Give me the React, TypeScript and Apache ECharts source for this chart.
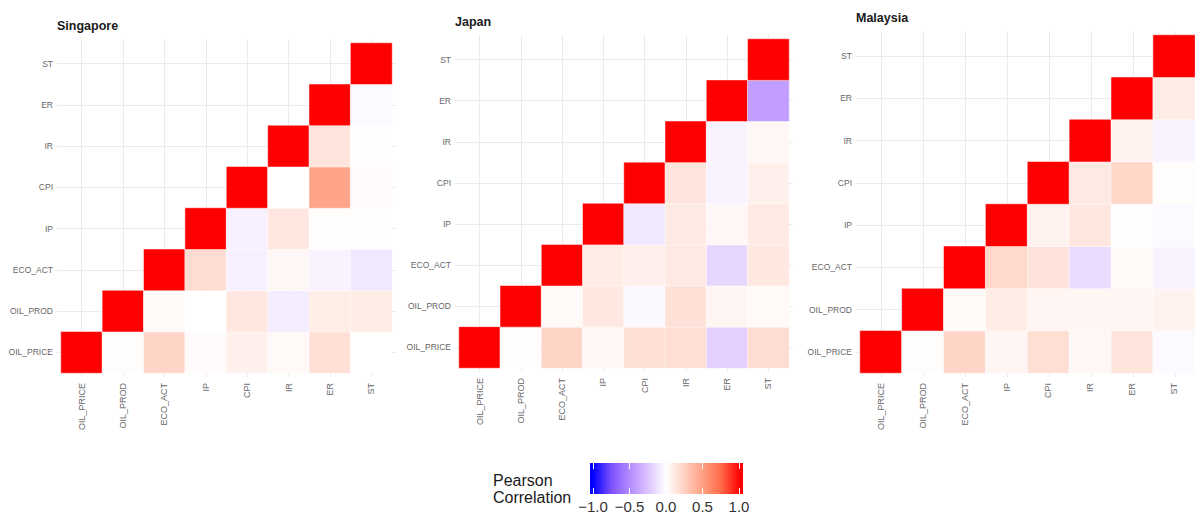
import React, { useEffect, useRef } from "react";
import * as echarts from "echarts";

// Variables (bottom-to-top on y, left-to-right on x)
const variables = ["OIL_PRICE", "OIL_PROD", "ECO_ACT", "IP", "CPI", "IR", "ER", "ST"];
const countries = ["Singapore", "Japan", "Malaysia"];

// Upper-triangle correlations: row r holds values for columns r..7
const singaporeCorr = [
  [1, 0.01, 0.22, 0.02, 0.08, 0.03, 0.16, 0.0],
  [1, 0.03, 0.0, 0.13, -0.08, 0.09, 0.1],
  [1, 0.18, -0.06, 0.04, -0.05, -0.1],
  [1, -0.06, 0.13, 0.01, 0.01],
  [1, 0.0, 0.47, 0.02],
  [1, 0.14, 0.01],
  [1, -0.02],
  [1],
];
const japanCorr = [
  [1, 0.01, 0.22, 0.04, 0.16, 0.17, -0.2, 0.18],
  [1, 0.03, 0.12, -0.03, 0.16, 0.05, 0.03],
  [1, 0.1, 0.08, 0.11, -0.17, 0.12],
  [1, -0.1, 0.11, 0.04, 0.11],
  [1, 0.14, -0.05, 0.08],
  [1, -0.05, 0.04],
  [1, -0.42],
  [1],
];
const malaysiaCorr = [
  [1, 0.01, 0.22, 0.05, 0.17, 0.04, 0.14, -0.02],
  [1, 0.03, 0.1, 0.05, 0.05, 0.05, 0.06],
  [1, 0.2, 0.15, -0.15, 0.03, -0.05],
  [1, 0.06, 0.13, -0.01, -0.02],
  [1, 0.11, 0.21, 0.01],
  [1, 0.06, -0.05],
  [1, 0.1],
  [1],
];
const countryCorr = [singaporeCorr, japanCorr, malaysiaCorr];

// Legend
const legendTitle = ["Pearson", "Correlation"];
const legendTicks = [-1, -0.5, 0, 0.5, 1];
// blue - white - red gradient (Lab-like interpolation stops from -1 to 1)
const scaleColors = [
  "#0000FF", "#7E51FF", "#B38BFF", "#DCC4FF", "#FFFFFF",
  "#FFCFBF", "#FF9E81", "#FF6846", "#FF0000",
];

// Layout of the three panels (tile area)
const panels = [
  { left: 61, top: 43, width: 331, height: 330, titleLeft: 57, titleTop: 19 },
  { left: 459, top: 39, width: 330, height: 329, titleLeft: 455, titleTop: 15 },
  { left: 860, top: 35, width: 336, height: 338, titleLeft: 856, titleTop: 11 },
];

const FONT = "Liberation Sans, Arial, sans-serif";
const GRID_COLOR = "#EBEBEB";
const LABEL_COLOR = "#666666";

function buildData(corr: number[][]) {
  const out: [number, number, number][] = [];
  corr.forEach((row, r) => {
    row.forEach((v, k) => {
      out.push([r + k, r, v]);
    });
  });
  return out;
}

export default function App() {
  const ref = useRef<HTMLDivElement>(null);

  useEffect(() => {
    if (!ref.current) return;
    const chart = echarts.init(ref.current, undefined, { renderer: "svg" });

    const grids: any[] = [];
    const xAxes: any[] = [];
    const yAxes: any[] = [];
    const series: any[] = [];
    const titles: any[] = [];

    panels.forEach((p, i) => {
      const n = variables.length;
      const cw = p.width / n;
      const ch = p.height / n;
      const base = grids.length;
      // tile grid
      grids.push({ left: p.left, top: p.top, width: p.width, height: p.height });
      // vertical gridlines grid
      grids.push({
        left: p.left + cw / 2,
        top: p.top - 0.1 * ch,
        width: (n - 1) * cw,
        height: (n + 0.2) * ch,
      });
      // horizontal gridlines grid
      grids.push({
        left: p.left - 0.1 * cw,
        top: p.top + ch / 2,
        width: (n + 0.2) * cw,
        height: (n - 1) * ch,
      });

      // tile axes
      xAxes.push({
        type: "category",
        gridIndex: base,
        data: variables,
        axisLine: { show: false },
        axisTick: { show: false },
        splitLine: { show: false },
        axisLabel: {
          rotate: 90,
          interval: 0,
          margin: 10,
          fontSize: 9,
          color: LABEL_COLOR,
          fontFamily: FONT,
        },
        z: 3,
      });
      yAxes.push({
        type: "category",
        gridIndex: base,
        data: variables,
        axisLine: { show: false },
        axisTick: { show: false },
        splitLine: { show: false },
        axisLabel: {
          interval: 0,
          margin: 8,
          fontSize: 8.5,
          color: LABEL_COLOR,
          fontFamily: FONT,
        },
        z: 3,
      });
      // vertical gridlines
      xAxes.push({
        type: "category",
        gridIndex: base + 1,
        data: variables,
        boundaryGap: false,
        axisLine: { show: false },
        axisTick: { show: false },
        axisLabel: { show: false, interval: 0 },
        splitLine: { show: true, interval: 0, lineStyle: { color: GRID_COLOR, width: 1 } },
      });
      yAxes.push({ type: "value", gridIndex: base + 1, show: false });
      // horizontal gridlines
      xAxes.push({ type: "value", gridIndex: base + 2, show: false });
      yAxes.push({
        type: "category",
        gridIndex: base + 2,
        data: variables,
        boundaryGap: false,
        axisLine: { show: false },
        axisTick: { show: false },
        axisLabel: { show: false, interval: 0 },
        splitLine: { show: true, interval: 0, lineStyle: { color: GRID_COLOR, width: 1 } },
      });

      series.push({
        type: "heatmap",
        name: countries[i],
        xAxisIndex: base,
        yAxisIndex: base,
        data: buildData(countryCorr[i]),
        itemStyle: { borderColor: "#ffffff", borderWidth: 0.5 },
        emphasis: { disabled: true },
        progressive: 0,
        z: 2,
      });

      titles.push({
        text: countries[i],
        left: p.titleLeft,
        top: p.titleTop,
        padding: 0,
        textStyle: { fontSize: 12.5, fontWeight: "bold", color: "#1a1a1a", fontFamily: FONT },
      });
    });

    // Legend grid (colourbar scale)
    const lg = { left: 593, top: 463, width: 146, height: 31, barLeft: 590, barWidth: 153 };
    const legendGrid = grids.length;
    grids.push({ left: lg.left, top: lg.top, width: lg.width, height: lg.height });
    const fmt = (v: number) => (v < 0 ? "\u2212" : "") + Math.abs(v).toFixed(1);
    xAxes.push({
      type: "value",
      gridIndex: legendGrid,
      min: legendTicks[0],
      max: legendTicks[legendTicks.length - 1],
      interval: legendTicks[1] - legendTicks[0],
      position: "bottom",
      axisLine: { show: false },
      axisTick: { show: true, inside: true, length: 6, lineStyle: { color: "#ffffff", width: 1 } },
      splitLine: { show: false },
      axisLabel: { margin: 5, fontSize: 15, color: "#333333", fontFamily: FONT, formatter: fmt },
      z: 5,
    });
    xAxes.push({
      type: "value",
      gridIndex: legendGrid,
      min: legendTicks[0],
      max: legendTicks[legendTicks.length - 1],
      interval: legendTicks[1] - legendTicks[0],
      position: "top",
      axisLine: { show: false },
      axisTick: { show: true, inside: true, length: 6, lineStyle: { color: "#ffffff", width: 1 } },
      splitLine: { show: false },
      axisLabel: { show: false },
      z: 5,
    });
    yAxes.push({ type: "value", gridIndex: legendGrid, show: false });

    const pad = (lg.left - lg.barLeft) / lg.barWidth;
    const stops = scaleColors.map((c, k) => ({
      offset: pad + (k / (scaleColors.length - 1)) * (1 - 2 * pad),
      color: c,
    }));
    stops.unshift({ offset: 0, color: scaleColors[0] });
    stops.push({ offset: 1, color: scaleColors[scaleColors.length - 1] });

    chart.setOption({
      animation: false,
      textStyle: { fontFamily: FONT },
      title: titles,
      grid: grids,
      xAxis: xAxes,
      yAxis: yAxes,
      visualMap: {
        type: "continuous",
        show: false,
        min: -1,
        max: 1,
        dimension: 2,
        seriesIndex: [0, 1, 2],
        inRange: { color: scaleColors },
      },
      series,
      graphic: [
        {
          type: "rect",
          z: 0,
          shape: { x: lg.barLeft, y: lg.top, width: lg.barWidth, height: lg.height },
          style: { fill: new echarts.graphic.LinearGradient(0, 0, 1, 0, stops) },
        },
        {
          type: "text",
          x: 493,
          y: 480,
          style: {
            text: legendTitle[0],
            fontSize: 16,
            fontFamily: FONT,
            fill: "#1a1a1a",
            verticalAlign: "middle",
          },
        },
        {
          type: "text",
          x: 493,
          y: 497,
          style: {
            text: legendTitle[1],
            fontSize: 16,
            fontFamily: FONT,
            fill: "#1a1a1a",
            verticalAlign: "middle",
          },
        },
      ],
    });

    return () => chart.dispose();
  }, []);

  return (
    <div
      ref={ref}
      style={{ position: "absolute", left: 0, top: 0, width: 1195, height: 516, background: "#ffffff" }}
    />
  );
}
